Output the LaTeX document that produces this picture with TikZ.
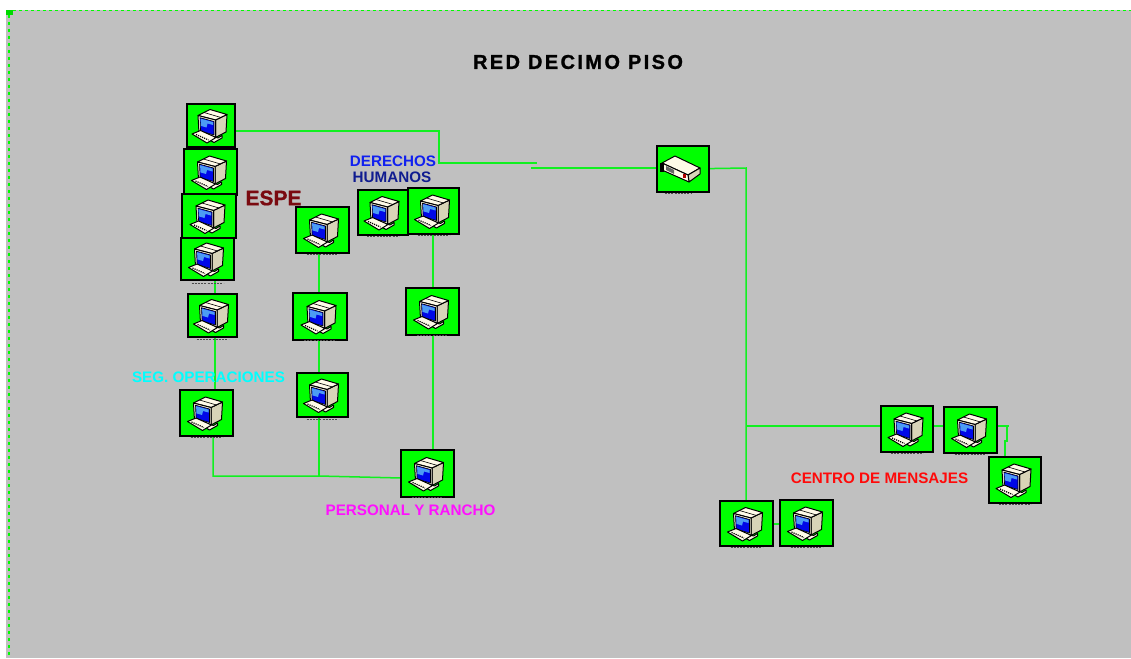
\documentclass[tikz,border=0pt]{standalone}
\usepackage{fontspec}
\usetikzlibrary{backgrounds}
\setmainfont{Liberation Sans}
\newfontfamily\spacedfont[LetterSpace=12,FakeBold=1.2]{Liberation Sans Bold}
\newfontfamily\heavyfont[FakeBold=0.8]{Liberation Sans Bold}
\definecolor{bggray}{HTML}{C0C0C0}
\definecolor{lime}{HTML}{00FF00}
\definecolor{linegreen}{HTML}{10F020}
\definecolor{beige}{HTML}{FFFBE8}
\definecolor{shade}{HTML}{D8D4B8}
\definecolor{screenblue}{HTML}{0008E8}
\definecolor{screenlight}{HTML}{4C9CF4}
\definecolor{espe}{HTML}{7A0A10}
\definecolor{lblblue}{HTML}{1020F0}
\definecolor{lblnavy}{HTML}{101C90}
\definecolor{lblcyan}{HTML}{00FFFF}
\definecolor{lblmagenta}{HTML}{FF10FF}
\definecolor{lblred}{HTML}{FF0A0A}
\tikzset{
  devbox/.style={draw=black,line width=1.3pt,fill=lime,inner sep=0pt,outer sep=0pt},
  wire/.style={draw=linegreen,line width=1.5pt},
  lbl/.style={font=\fontsize{15.2}{17}\selectfont\bfseries,inner sep=0pt},
  iconline/.style={draw=black,line width=1pt,line join=round},
}
\newcommand{\pcicon}[1]{%
  \begin{scope}[shift={(#1.center)}]
    \filldraw[iconline,fill=shade] (4.5,-5.5) -- (16,-11) -- (15,6.5) -- (4.5,12) -- cycle;
    \filldraw[iconline,fill=beige] (-13,-10) -- (-1,-16) -- (16,-11) -- (4.5,-5.5) -- cycle;
    \draw[black,line width=.6pt] (-7,-13) -- (10,-8);
    \filldraw[iconline,fill=beige] (-13,-10) -- (4.5,-5.5) -- (4.5,12) -- (-12,7.5) -- cycle;
    \filldraw[draw=black,line width=.6pt,fill=screenblue] (-11,-7.8) -- (3,-4) -- (3,9.5) -- (-10.4,5.6) -- cycle;
    \fill[screenlight] (-10.4,-6.8) -- (2,-3.4) -- (2,-0.5) -- (-3.5,-2) -- (-4.5,2) -- (-10,0.4) -- cycle;
    \filldraw[iconline,fill=beige] (-4,9) -- (7,12.5) -- (11,10) -- (11,12.5) -- (3,17) -- (-4,13) -- cycle;
    \filldraw[iconline,fill=beige] (-19,8.5) -- (-10.5,5) -- (5,12) -- (-4,17.5) -- cycle;
    \draw[black,line width=1.2pt,dash pattern=on 1.2pt off 1pt] (-15,9) -- (-2.5,14.5);
    \draw[black!70,line width=.8pt,dash pattern=on 2pt off 1.2pt] (-16,23.9) -- (16,23.9);
  \end{scope}}
\newcommand{\hubicon}[1]{%
  \begin{scope}[shift={(#1.center)}]
    \filldraw[iconline,fill=beige] (-21,-6) -- (-8,-13) -- (17,-1) -- (5,6) -- cycle;
    \filldraw[iconline,fill=shade] (5,6) -- (17,-1) -- (17,5) -- (6,13) -- cycle;
    \filldraw[iconline,fill=beige] (-21,-6) -- (5,6) -- (6,13) -- (-21,1) -- cycle;
    \fill[black] (-23,-6) rectangle (-19.5,3);
    \fill[black!60] (-17,-3) -- (-9,1) -- (-9,5) -- (-17,1) -- cycle;
    \fill[red!70!black] (0,5) rectangle (2.5,9);
    \draw[black!70,line width=.8pt,dash pattern=on 2pt off 1.2pt] (-18,24.5) -- (8,24.5);
  \end{scope}}
\newcommand{\dev}[5]{\node[devbox,minimum width={(#4-#2)*1pt},minimum height={(#5-#3)*1pt}] (#1) at ({(#2+#4)/2},{(#3+#5)/2}) {};}
\begin{document}
\begin{tikzpicture}[x=1pt,y=-1pt]
\useasboundingbox (0,0) rectangle (1131,658);

% boxes, back to front
\dev{pa}{187}{104}{235}{147}\pcicon{pa}
\dev{pb}{184}{149}{237}{195}\pcicon{pb}
\dev{pc}{182}{194}{236}{238}\pcicon{pc}
\dev{pd}{181}{238}{234}{280}\pcicon{pd}
\dev{pe}{188}{294}{237}{337}\pcicon{pe}
\dev{pf}{180}{390}{233}{436}\pcicon{pf}
\dev{pg}{296}{207}{349}{253}\pcicon{pg}
\dev{ph}{293}{293}{347}{340}\pcicon{ph}
\dev{pi}{297}{373}{348}{417}\pcicon{pi}
\dev{pj}{358}{190}{408}{235}\pcicon{pj}
\dev{pk}{408}{188}{459}{234}\pcicon{pk}
\dev{pl}{406}{288}{459}{335}\pcicon{pl}
\dev{pm}{401}{450}{454}{497}\pcicon{pm}
\dev{ra}{881}{406}{933}{452}\pcicon{ra}
\dev{rb}{944}{407}{997}{453}\pcicon{rb}
\dev{rc}{989}{457}{1041}{503}\pcicon{rc}
\dev{ba}{720}{501}{773}{546}\pcicon{ba}
\dev{bb}{780}{500}{833}{546}\pcicon{bb}
\dev{hub}{657}{146}{709}{192}\hubicon{hub}

% free ends and bends of the wire runs
\coordinate (busA) at (439,131);
\coordinate (busB) at (439,163);
\coordinate (busC) at (537,163);
\coordinate (busD) at (531,168);
\coordinate (hubturn) at (746,168);
\coordinate (tee) at (746,426);
\coordinate (rstubA) at (1009,426);
\coordinate (rstubB) at (1007,426);
\coordinate (rstubC) at (1007,441);
\coordinate (rstubD) at (1005,441);
\coordinate (leftx) at (215,300);
\coordinate (lowx) at (213,476);
\coordinate (ljoin) at (319,476);
\coordinate (lend) at (401,478);
\coordinate (midx) at (433,300);
\coordinate (botrow) at (750,524);

\begin{scope}[on background layer]
\fill[white] (0,0) rectangle (1131,658);
\fill[bggray] (6,10) rectangle (1131,658);
\draw[lime,line width=1.5pt,dash pattern=on 3pt off 3pt] (13,10.5) -- (1131,10.5);
\draw[lime,line width=1.5pt,dash pattern=on 3pt off 4pt] (9,15) -- (9,658);
\fill[lime!85!black] (6,10) rectangle (13,15);
\draw[wire] (pa.center |- busA) -- (busA) -- (busB) -- (busC);
\draw[wire] (busD) -- (hub.center |- busD);
\draw[wire] (pd.south -| leftx) -- (pf.north -| leftx);
\draw[wire] (pf.south -| lowx) -- (lowx) -- (ljoin) -- (lend) -- (pm.center |- lend);
\draw[wire] (pg.south -| ljoin) -- (pi.north -| ljoin);
\draw[wire] (pi.south -| ljoin) -- (ljoin);
\draw[wire] (pk.south -| midx) -- (pm.north -| midx);
\draw[wire] (hub.center) -- (hubturn) -- (ba.north -| hubturn);
\draw[wire] (tee) -- (ra.center |- tee);
\draw[wire] (ra.center |- tee) -- (rstubA);
\draw[wire] (rstubB) -- (rstubC) -- (rstubD) -- (rc.north -| rstubD);
\draw[wire] (ba.center |- botrow) -- (bb.center |- botrow);
\end{scope}

% labels
\node[inner sep=0pt,text=black] (title) at (578,62) {\fontsize{20}{22}\selectfont\spacedfont RED DECIMO PISO};
\node[inner sep=0pt,text=espe] (espe) at (273.5,198) {\fontsize{21}{23}\selectfont\heavyfont ESPE};
\node[lbl,text=lblblue] (dh1) at (393,161) {DERECHOS};
\node[lbl,text=lblnavy] (dh2) at (392,177) {HUMANOS};
\node[lbl,text=lblcyan] (seg) at (208.5,377) {SEG. OPERACIONES};
\node[lbl,text=lblmagenta] (pers) at (410.5,510) {PERSONAL Y RANCHO};
\node[lbl,text=lblred] (cen) at (879.5,478) {CENTRO DE MENSAJES};
\end{tikzpicture}
\end{document}
